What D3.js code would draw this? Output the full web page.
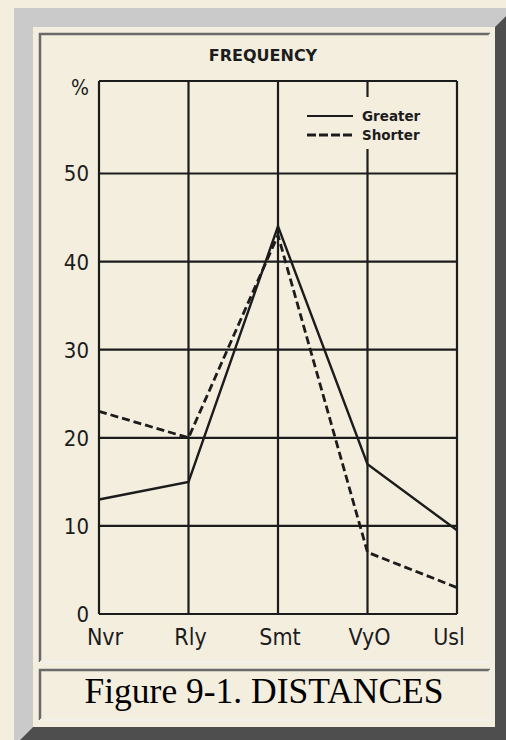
<!DOCTYPE html>
<html>
<head>
<meta charset="utf-8">
<script src="https://cdn.jsdelivr.net/npm/d3@7"></script>
<style>
  html, body { margin: 0; padding: 0; background: #f4eedf; overflow: hidden; }
  svg { display: block; }
</style>
</head>
<body>
<div id="chart"></div>
<script>
// data
const categories = ["Nvr", "Rly", "Smt", "VyO", "Usl"];
const greater = [13, 15, 44, 17, 9.5];
const shorter = [23, 20, 43, 7, 3];
const yTicks = [0, 10, 20, 30, 40, 50];
const seriesNames = ["Greater", "Shorter"];

const W = 506, H = 740;
const bg = "#f4eedf";
const ink = "#1c1c1c";

const svg = d3.select("#chart").append("svg")
  .attr("width", W)
  .attr("height", H);

svg.append("rect").attr("width", W).attr("height", H).attr("fill", bg);

// outer bevelled frame (runs past the window on the right and bottom)
const fo = { x0: 14, y0: 8, x1: 514, y1: 746, b: 19 };
svg.append("polygon")
  .attr("points", [[fo.x0, fo.y0], [fo.x1, fo.y0], [fo.x1 - fo.b, fo.y0 + fo.b],
    [fo.x0 + fo.b, fo.y0 + fo.b], [fo.x0 + fo.b, fo.y1 - fo.b], [fo.x0, fo.y1]].join(" "))
  .attr("fill", "#cacaca");
svg.append("polygon")
  .attr("points", [[fo.x1, fo.y0], [fo.x1, fo.y1], [fo.x0, fo.y1],
    [fo.x0 + fo.b, fo.y1 - fo.b], [fo.x1 - fo.b, fo.y1 - fo.b], [fo.x1 - fo.b, fo.y0 + fo.b]].join(" "))
  .attr("fill", "#4e4e4e");

// inset cells
function cell(x0, y0, x1, y1) {
  svg.append("path").attr("d", `M${x0},${y1}V${y0}H${x1}`)
    .attr("fill", "none").attr("stroke", "#6a6a6a").attr("stroke-width", 2.5);
  svg.append("path").attr("d", `M${x1},${y0}V${y1}H${x0}`)
    .attr("fill", "none").attr("stroke", "#f2f0ea").attr("stroke-width", 2.5);
}
cell(40, 34, 490, 662);
cell(40, 670, 490, 720);

// chart area
const x = d3.scalePoint().domain(categories).range([99, 457]);
const y = d3.scaleLinear().domain([0, 60.5]).range([614, 81]);

const g = svg.append("g");

// grid
g.selectAll("line.v").data(categories).join("line")
  .attr("class", "v")
  .attr("x1", d => x(d)).attr("x2", d => x(d))
  .attr("y1", y(0)).attr("y2", y(60.5))
  .attr("stroke", ink).attr("stroke-width", 2.2);

g.selectAll("line.h").data(yTicks).join("line")
  .attr("class", "h")
  .attr("x1", x("Nvr")).attr("x2", x("Usl"))
  .attr("y1", d => y(d)).attr("y2", d => y(d))
  .attr("stroke", ink).attr("stroke-width", 2.2);

g.append("line")
  .attr("x1", x("Nvr")).attr("x2", x("Usl"))
  .attr("y1", y(60.5)).attr("y2", y(60.5))
  .attr("stroke", ink).attr("stroke-width", 2.2);

// legend, drawn over the grid
const lg = g.append("g");
lg.append("rect").attr("x", 300).attr("y", 97).attr("width", 132).attr("height", 52).attr("fill", bg);
seriesNames.forEach((name, i) => {
  const ly = 116 + i * 19;
  lg.append("line")
    .attr("x1", 307).attr("x2", 353).attr("y1", ly).attr("y2", ly)
    .attr("stroke", ink).attr("stroke-width", i ? 3 : 2)
    .attr("stroke-dasharray", i ? "9,3" : null);
  lg.append("text")
    .attr("x", 362).attr("y", ly + 5)
    .attr("font-family", "DejaVu Sans, sans-serif")
    .attr("font-weight", "bold")
    .attr("font-size", 13.5)
    .attr("fill", ink)
    .text(name);
});

// series lines
const line = d3.line().x((d, i) => x(categories[i])).y(d => y(d));
g.append("path").datum(greater).attr("d", line)
  .attr("fill", "none").attr("stroke", ink).attr("stroke-width", 2.4);
g.append("path").datum(shorter).attr("d", line)
  .attr("fill", "none").attr("stroke", ink).attr("stroke-width", 2.8)
  .attr("stroke-dasharray", "8,4");

// axis labels
const labelFont = "DejaVu Sans Condensed, sans-serif";
g.selectAll("text.yl").data(yTicks).join("text")
  .attr("class", "yl")
  .attr("x", 89).attr("y", d => y(d))
  .attr("dy", "0.36em")
  .attr("text-anchor", "end")
  .attr("font-family", labelFont)
  .attr("font-size", 22)
  .attr("fill", ink)
  .text(d => d);

g.append("text")
  .attr("x", 80).attr("y", 95)
  .attr("text-anchor", "middle")
  .attr("font-family", labelFont)
  .attr("font-size", 21)
  .attr("fill", ink)
  .text("%");

g.selectAll("text.xl").data(categories).join("text")
  .attr("class", "xl")
  .attr("x", (d, i) => x(d) + (i === 0 ? 6 : i === categories.length - 1 ? -8 : 2))
  .attr("y", 645)
  .attr("text-anchor", "middle")
  .attr("font-family", labelFont)
  .attr("font-size", 23)
  .attr("fill", ink)
  .text(d => d);

g.append("text")
  .attr("x", 263).attr("y", 61)
  .attr("text-anchor", "middle")
  .attr("font-family", "DejaVu Sans, sans-serif")
  .attr("font-weight", "bold")
  .attr("font-size", 16)
  .attr("fill", ink)
  .text("FREQUENCY");

// caption
svg.append("text")
  .attr("x", 264).attr("y", 703)
  .attr("text-anchor", "middle")
  .attr("font-family", "Liberation Serif, serif")
  .attr("font-size", 35.5)
  .attr("fill", "#000")
  .text("Figure 9-1. DISTANCES");
</script>
</body>
</html>
